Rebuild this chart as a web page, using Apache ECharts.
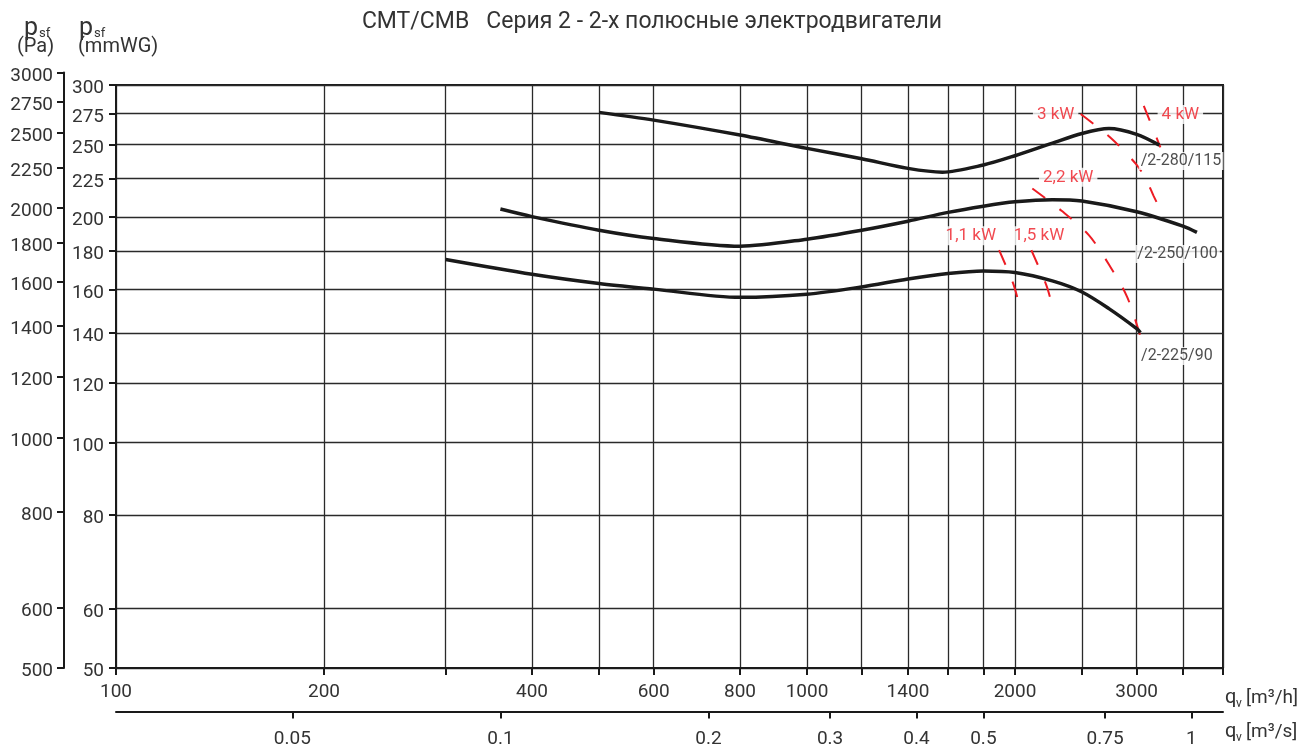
<!DOCTYPE html>
<html><head><meta charset="utf-8">
<script src="https://cdn.jsdelivr.net/npm/echarts@6/dist/echarts.min.js"></script>
<style>html,body{margin:0;padding:0;background:#fff}#c{width:1304px;height:749px}</style>
</head><body><div id="c"></div><script>
// ---- axes ticks / labels ----
const flowTicks = [100,200,300,400,500,600,800,1000,1200,1400,1600,1800,2000,2500,3000,3500,4000];
const flowLabels = [100,200,400,600,800,1000,1400,2000,3000];
const flowM3sTicks = [0.05,0.1,0.2,0.3,0.4,0.5,0.75,1];
const mmwgTicks = [50,60,80,100,120,140,160,180,200,225,250,275,300];
const paTicks = [500,600,800,1000,1200,1400,1600,1800,2000,2250,2500,2750,3000];

// ---- fan curves: [qv m3/h, psf mmWG] ----
const fan280 = [[500,275.8],[600,269.3],[800,257.2],[1000,246.9],[1200,239.2],[1400,232.2],[1570,229.5],[1800,234.6],[2000,241.4],[2260,250.7],[2500,258.5],[2735,262.4],[3000,257.8],[3236,249.4]];
const fan250 = [[360,204.9],[400,200.2],[500,192],[600,187.2],[800,182.8],[1000,186.8],[1200,192],[1400,197.4],[1600,202.8],[1800,206.7],[2000,209.5],[2265,210.9],[2500,210],[3000,203.2],[3500,194.4],[3667,190.7]];
const fan225 = [[300,175.5],[400,167.7],[500,163],[600,160.2],[800,156.2],[1000,157.7],[1200,161.3],[1400,165.3],[1600,168.1],[1800,169.4],[2000,168.6],[2265,164.3],[2500,158.8],[2735,150.9],[3000,141.9],[3038,140.2]];
const curveNames = ['/2-280/115','/2-250/100','/2-225/90'];

// ---- motor power limit lines ----
const kw11 = [[1897,180.6],[1987,163.2],[2022,154.5]];
const kw15 = [[2112,180.6],[2220,162.2],[2257,154]];
const kw22 = [[2119,218.3],[2336,203.8],[2558,189.1],[2735,172.8],[2909,156.1],[3044,137.6]];
const kw3 = [[2489,274.4],[2750,255.1],[2994,235.3],[3090,225.2],[3175,213.2],[3254,203.6]];
const kw4 = [[3072,281.3],[3247,247.7]];

// ---- annotation anchors: [qv, mmWG, text] ----
const powerLabels = [[1726,188.7,'1,1 kW'],[2167,188.7,'1,5 kW'],[2388,225.9,'2,2 kW'],[2290,273.5,'3 kW'],[3470,274,'4 kW']];
const curveLabels = [[3478,237.6,curveNames[0]],[3438,178.5,curveNames[1]],[3430,130.4,curveNames[2]]];

const FONT = 'Roboto, "Noto Sans", sans-serif';
const TXT = '#333';
const GRID = '#2a2a2a';
const RED = '#ed1c24';
const fmt = v => String(+(+v).toPrecision(6));

const chart = echarts.init(document.getElementById('c'), null, {renderer:'canvas', width:1304, height:749});

const curveSeries = [fan280, fan250, fan225].map((d,i) => ({
  type:'line', name:curveNames[i], xAxisIndex:0, yAxisIndex:0, data:d,
  smooth:0.3, symbol:'none', z:5,
  lineStyle:{color:'#1a1a1a', width:3.5}
}));
const powerSeries = [kw11, kw15, kw22, kw3, kw4].map(d => ({
  type:'line', xAxisIndex:0, yAxisIndex:0, data:d,
  smooth:0.3, symbol:'none', z:4,
  lineStyle:{color:RED, width:2, type:[16,18]}
}));

const yLabel = {show:true, formatter:fmt, fontSize:19, color:TXT, fontFamily:FONT, verticalAlign:'top', lineHeight:7};

const option = {
  animation:false,
  backgroundColor:'#fff',
  textStyle:{fontFamily:FONT},
  title:{text:'CMT/CMB   Серия 2 - 2-х полюсные электродвигатели', left:'center', top:6,
    textStyle:{fontFamily:FONT, fontSize:23, fontWeight:'normal', color:TXT}},
  grid:[
    {left:116, right:81, top:85, bottom:81, show:true, borderColor:'#1a1a1a', borderWidth:2},
    {left:64, width:10, top:72.5, bottom:81}
  ],
  xAxis:[
    {gridIndex:0, type:'log', logBase:10, min:100, max:4000, position:'bottom',
      axisLine:{show:true, onZero:false, lineStyle:{color:'#1a1a1a', width:2}},
      axisTick:{show:true, customValues:flowTicks, length:7, lineStyle:{color:'#1a1a1a', width:2}},
      axisLabel:{show:true, customValues:flowLabels, formatter:fmt, margin:15, fontSize:19, color:TXT, fontFamily:FONT},
      splitLine:{show:true, lineStyle:{color:GRID, width:1.3}},
      minorTick:{show:false}, minorSplitLine:{show:false}},
    {gridIndex:0, type:'log', logBase:10, min:100/3600, max:4000/3600, position:'bottom', offset:43.5,
      axisLine:{show:true, onZero:false, lineStyle:{color:'#1a1a1a', width:2}},
      axisTick:{show:true, customValues:flowM3sTicks, length:7, lineStyle:{color:'#1a1a1a', width:2}},
      axisLabel:{show:true, customValues:flowM3sTicks, formatter:fmt, margin:18, fontSize:19, color:TXT, fontFamily:FONT},
      splitLine:{show:false}},
    {gridIndex:1, type:'value', show:false, min:0, max:1}
  ],
  yAxis:[
    {gridIndex:0, type:'log', logBase:10, min:50, max:300, position:'left',
      axisLine:{show:true, onZero:false, lineStyle:{color:'#1a1a1a', width:2}},
      axisTick:{show:true, customValues:mmwgTicks, length:7, lineStyle:{color:'#1a1a1a', width:2}},
      axisLabel:Object.assign({customValues:mmwgTicks, margin:12}, yLabel),
      splitLine:{show:true, lineStyle:{color:GRID, width:1.3}},
      minorTick:{show:false}, minorSplitLine:{show:false}},
    {gridIndex:1, type:'log', logBase:10, min:500, max:3000, position:'left',
      axisLine:{show:true, onZero:false, lineStyle:{color:'#1a1a1a', width:2}},
      axisTick:{show:true, customValues:paTicks, length:7, lineStyle:{color:'#1a1a1a', width:2}},
      axisLabel:Object.assign({customValues:paTicks, margin:11}, yLabel),
      splitLine:{show:false}}
  ],
  graphic:[
    {type:'text', x:24, y:29, style:{text:'p', font:'25px '+FONT, fill:TXT, align:'left', verticalAlign:'middle'}},
    {type:'text', x:39, y:34, style:{text:'sf', font:'13px '+FONT, fill:TXT, align:'left', verticalAlign:'middle'}},
    {type:'text', x:17, y:47, style:{text:'(Pa)', font:'20px '+FONT, fill:TXT, align:'left', verticalAlign:'middle'}},
    {type:'text', x:79, y:29, style:{text:'p', font:'25px '+FONT, fill:TXT, align:'left', verticalAlign:'middle'}},
    {type:'text', x:94, y:34, style:{text:'sf', font:'13px '+FONT, fill:TXT, align:'left', verticalAlign:'middle'}},
    {type:'text', x:78, y:47, style:{text:'(mmWG)', font:'20px '+FONT, fill:TXT, align:'left', verticalAlign:'middle'}},
    {type:'text', x:1225, y:698, style:{text:'q', font:'20px '+FONT, fill:TXT, align:'left', verticalAlign:'middle'}},
    {type:'text', x:1236, y:704, style:{text:'v', font:'12px '+FONT, fill:TXT, align:'left', verticalAlign:'middle'}},
    {type:'text', x:1246, y:698, style:{text:'[m³/h]', font:'19px '+FONT, fill:TXT, align:'left', verticalAlign:'middle'}},
    {type:'text', x:1225, y:732, style:{text:'q', font:'20px '+FONT, fill:TXT, align:'left', verticalAlign:'middle'}},
    {type:'text', x:1236, y:738, style:{text:'v', font:'12px '+FONT, fill:TXT, align:'left', verticalAlign:'middle'}},
    {type:'text', x:1246, y:732, style:{text:'[m³/s]', font:'19px '+FONT, fill:TXT, align:'left', verticalAlign:'middle'}}
  ],
  series:[
    ...curveSeries,
    ...powerSeries,
    {type:'scatter', xAxisIndex:0, yAxisIndex:0, data:powerLabels, symbolSize:0, z:8, silent:true,
      label:{show:true, position:'inside', formatter:p => p.data[2], color:RED, fontSize:17, fontFamily:FONT,
        backgroundColor:'#fff', padding:[1,4]}},
    {type:'scatter', xAxisIndex:0, yAxisIndex:0, data:curveLabels, symbolSize:0, z:8, silent:true,
      label:{show:true, position:'inside', formatter:p => p.data[2], color:'#222', fontSize:16, fontFamily:FONT,
        backgroundColor:'#fff', padding:[1,2]}}
  ]
};
chart.setOption(option);
</script></body></html>
